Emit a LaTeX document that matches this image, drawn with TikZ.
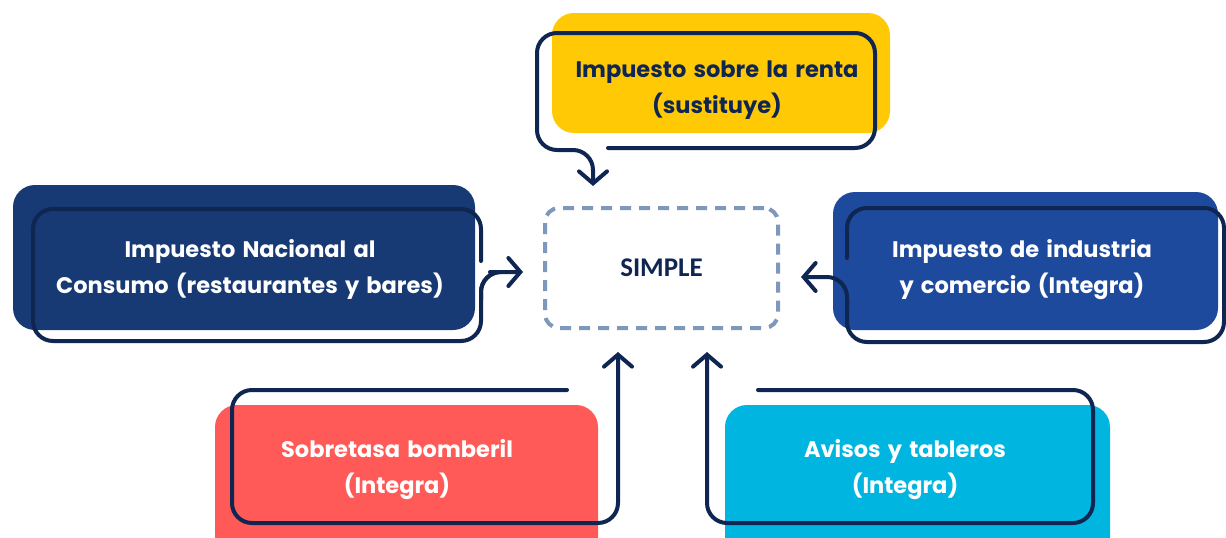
\documentclass[tikz,border=0pt]{standalone}
\usepackage{fontspec}
\newfontfamily\pop{Poppins}[WordSpace=1.5]
\newfontfamily\carl{Carlito}[BoldFont={Carlito Bold}]
\usetikzlibrary{arrows.meta}
\definecolor{cyel}{HTML}{FFCA05}
\definecolor{cdkb}{HTML}{183A74}
\definecolor{cblu}{HTML}{1D4A9C}
\definecolor{cred}{HTML}{FF5A57}
\definecolor{ccya}{HTML}{00B5DF}
\definecolor{cnav}{HTML}{0F2552}
\definecolor{cdash}{HTML}{7D98BA}
\tikzset{
  fillbox/.style={rectangle, rounded corners=22pt, inner sep=0pt},
  lbl/.style={font=\pop\bfseries\fontsize{22.5}{36}\selectfont, align=center, text=white, inner sep=0pt},
  outl/.style={draw=cnav, line width=4pt, rounded corners=20pt, line cap=round},
  arr/.style={outl, -{Straight Barb[length=12pt,width=28pt,line cap=round]}},
}
\begin{document}
\begin{tikzpicture}[x=1pt,y=-1pt]
\useasboundingbox (0,0) rectangle (1226,538);
\clip (0,0) rectangle (1226,538);
\fill[white] (0,0) rectangle (1226,538);
% center
\node[draw=cdash, line width=4pt, dash pattern=on 11pt off 8pt, rounded corners=14pt,
  minimum width=233pt, minimum height=120pt, font=\carl\bfseries\fontsize{27}{30}\selectfont, text=cnav]
  (simple) at (661.5,268) {SIMPLE};
% fills
\node[fillbox, fill=cyel, minimum width=338pt, minimum height=120pt] (renta) at (721,73) {};
\node[fillbox, fill=cdkb, minimum width=462pt, minimum height=145pt] (inc) at (244,257.5) {};
\node[fillbox, fill=cblu, minimum width=385pt, minimum height=138pt] (ica) at (1025.5,261) {};
\node[fillbox, fill=cred, minimum width=383pt, minimum height=160pt] (bomb) at (406.5,485) {};
\node[fillbox, fill=ccya, minimum width=385pt, minimum height=160pt] (avis) at (917.5,485) {};
% texts
\node[lbl, text=cnav] (trenta) at (717,90) {Impuesto sobre la renta\\(sustituye)};
\node[lbl] (tinc) at (250,269) {Impuesto Nacional al\\Consumo (restaurantes y bares)};
\node[lbl] (tica) at (1022,270) {Impuesto de industria\\y comercio (Integra)};
\node[lbl] (tbomb) at (397,470) {Sobretasa bomberil\\(Integra)};
\node[lbl] (tavis) at (905,470) {Avisos y tableros\\(Integra)};
% outlines and arrows
\coordinate (tipA) at (593,186);
\coordinate (tipB) at (523,272);
\coordinate (tipC) at (801,277);
\coordinate (tipD) at (618,352);
\coordinate (tipE) at (707,352);
\draw[arr] (608,148) -- (875,148) -- (875,33) -- (537,33) -- (537,150) -- (593,150) -- (tipA);
\draw[outl] (481,261) -- (481,209) -- (33,209) -- (33,341) -- (481,341) -- (481,272) -- (490,272);
\draw[arr] (481,300) -- (481,272) -- (tipB);
\draw[outl] (847,258) -- (847,208) -- (1224,208) -- (1224,342) -- (847,342) -- (847,300);
\draw[arr] (847,310) -- (847,277) -- (tipC);
\draw[arr] (567,390) -- (232,390) -- (232,523) -- (618,523) -- (tipD);
\draw[arr] (758,390) -- (1093,390) -- (1093,523) -- (707,523) -- (tipE);
\end{tikzpicture}
\end{document}
